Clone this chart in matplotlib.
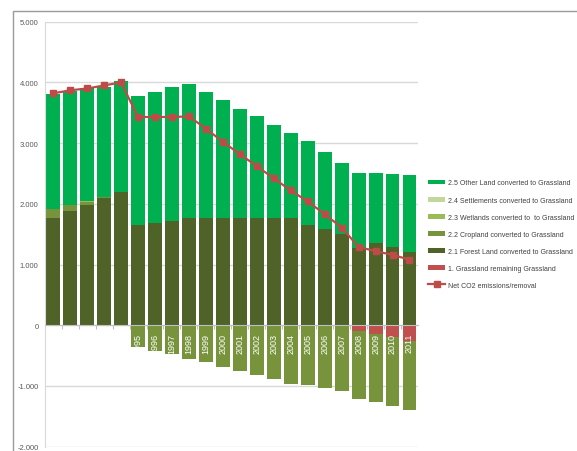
import matplotlib
matplotlib.use("Agg")
import matplotlib.pyplot as plt
import matplotlib.transforms as mtransforms
import numpy as np
from matplotlib.patches import Rectangle
from matplotlib.ticker import FuncFormatter, FixedLocator

plt.rcParams["font.family"] = ["Liberation Sans", "DejaVu Sans"]

# Grassland CO2 emissions/removals by subcategory (Gg CO2)
years = list(range(1990, 2012))

grass_remaining = [0, 0, 0, 0, 0, 0, 0, 0, 0, 0, 0, 0, 0, 0, 0, 0, 0, 0,
                   -100, -140, -190, -260]
forest_land = [1770, 1880, 1980, 2090, 2190, 1650, 1690, 1720, 1760, 1760, 1760,
               1760, 1760, 1770, 1770, 1650, 1580, 1510, 1280, 1360, 1290, 1210]
cropland = [150, 100, 50, 15, -20, -360, -430, -480, -550, -610, -680,
            -750, -820, -890, -960, -980, -1030, -1080, -1120, -1130, -1140, -1140]
wetlands = [0, 0, 10, 5, 0, 0, 0, 0, 0, 0, 0, 0, 0, 0, 0, 0, 0, 0, 0, 0, 0, 0]
settlements = [0, 0, 0, 0, 0, 0, 0, 0, 0, 0, 0, 0, 0, 0, 0, 0, 0, 0, 0, 0, 0, 0]
other_land = [1890, 1880, 1860, 1820, 1830, 2130, 2150, 2200, 2220, 2090, 1950,
              1810, 1680, 1530, 1390, 1380, 1280, 1170, 1230, 1140, 1200, 1260]
net_co2 = [3820, 3870, 3900, 3950, 4000, 3430, 3430, 3430, 3440, 3240, 3020,
           2820, 2620, 2420, 2220, 2040, 1830, 1610, 1290, 1220, 1160, 1080]

series = [
    ("1. Grassland remaining Grassland", grass_remaining, "#C0504D"),
    ("2.1 Forest Land converted to Grassland", forest_land, "#4F6228"),
    ("2.2 Cropland converted to Grassland", cropland, "#77933C"),
    ("2.3 Wetlands converted to  to Grassland", wetlands, "#9BBB59"),
    ("2.4 Settlements converted to Grassland", settlements, "#C3D69B"),
    ("2.5 Other Land converted to Grassland", other_land, "#00B050"),
]

fig = plt.figure(figsize=(5.77, 4.52), dpi=100)
ax = fig.add_axes([0.0775, 0.0095, 0.6469, 0.9403])

x = np.arange(len(years))
pos_base = np.zeros(len(years))
neg_base = np.zeros(len(years))
handles = {}
for name, vals, color in series:
    v = np.array(vals, dtype=float)
    bottom = np.where(v >= 0, pos_base, neg_base)
    h = ax.bar(x, v, 0.82, bottom=bottom, color=color, linewidth=0, zorder=2)
    handles[name] = h
    pos_base += np.clip(v, 0, None)
    neg_base += np.clip(v, None, 0)

line, = ax.plot(x, net_co2, color="#BE4B48", linewidth=1.6, marker="s",
                markersize=4.2, zorder=4)

ax.set_xlim(-0.5, len(years) - 0.5)
ax.set_ylim(-2000, 5000)
ax.set_yticks(np.arange(-2000, 5001, 1000))
ax.yaxis.set_major_formatter(FuncFormatter(
    lambda v, p: "0" if v == 0 else f"{v:,.0f}".replace(",", ".")))
ax.grid(axis="y", color="#D9D9D9", linewidth=1.0, zorder=0)
ax.set_axisbelow(True)
ax.tick_params(axis="y", length=0, pad=4.5, labelsize=5.5, labelcolor="#595959")

# category axis sits at zero
ax.spines["bottom"].set_position(("data", 0))
ax.spines["bottom"].set_color("#BFBFBF")
ax.spines["bottom"].set_zorder(3)
ax.spines["left"].set_color("#D9D9D9")
ax.spines["top"].set_visible(False)
ax.spines["right"].set_visible(False)
ax.set_xticks(x)
ax.set_xticklabels([])
ax.tick_params(axis="x", which="major", length=0)
ax.xaxis.set_minor_locator(FixedLocator(x[:-1] + 0.5))
ax.tick_params(axis="x", which="minor", length=3, color="#BFBFBF", width=0.8)

# year labels in white, drawn over the bars just below zero
lbl_trans = mtransforms.offset_copy(ax.transData, fig=fig, y=-5.5, units="points")
for xi, yr in zip(x, years):
    ax.text(xi, 0, str(yr), rotation=90, ha="center", va="top",
            fontsize=6.5, color="white", transform=lbl_trans, zorder=5)

order = [
    "2.5 Other Land converted to Grassland",
    "2.4 Settlements converted to Grassland",
    "2.3 Wetlands converted to  to Grassland",
    "2.2 Cropland converted to Grassland",
    "2.1 Forest Land converted to Grassland",
    "1. Grassland remaining Grassland",
]
leg = fig.legend([handles[n] for n in order] + [line],
                 order + ["Net CO2 emissions/removal"],
                 loc="upper left", bbox_to_anchor=(0.7418, 0.6007),
                 frameon=False, fontsize=5.0, handlelength=2.5,
                 handleheight=0.7, labelspacing=1.45, handletextpad=0.4,
                 borderpad=0, borderaxespad=0)
for t in leg.get_texts():
    t.set_color("#404040")

# outer chart frame (top and left edges visible)
fig.add_artist(Rectangle((13 / 577, -0.1), 1.2, 0.9735 + 0.1,
                         transform=fig.transFigure, fill=False,
                         edgecolor="#9A9A9A", linewidth=1.0))

fig.savefig("out.png", dpi=100)
